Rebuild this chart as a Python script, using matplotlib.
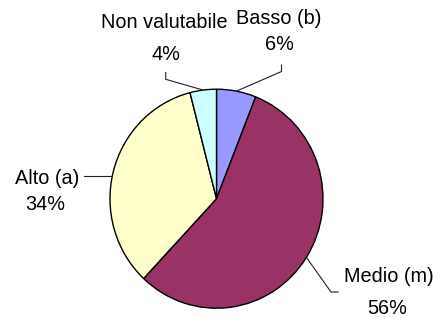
import numpy as np
import matplotlib
matplotlib.use("Agg")
import matplotlib.pyplot as plt

categories = ['Basso (b)', 'Medio (m)', 'Alto (a)', 'Non valutabile']
values = [6, 56, 34, 4]
colors = ['#9999FF', '#993366', '#FFFFCC', '#CCFFFF']

plt.rcParams['font.family'] = ['Liberation Sans', 'DejaVu Sans']

W, H = 444, 317
fig = plt.figure(figsize=(W / 100, H / 100), dpi=100)
ax = fig.add_axes([0, 0, 1, 1])

# pie is slightly taller than wide in the original
rx, ry = 106.5, 109.5
k = rx / ry

def px(x, y):
    # pixel position (from top-left) -> data coords
    return x, (H - y) * k

cx, cy = px(216.5, 198.7)
wedges, _ = ax.pie(values, colors=colors, startangle=90, counterclock=False,
                   center=(cx, cy), radius=rx, frame=True,
                   wedgeprops=dict(edgecolor='black', linewidth=1.0))
ax.set_xlim(0, W)
ax.set_ylim(0, H * k)
ax.set_aspect('auto')
ax.set_axis_off()

def edge_point(w, y=None):
    if y is None:
        a = np.deg2rad((w.theta1 + w.theta2) / 2)
        return cx + rx * np.cos(a), cy + rx * np.sin(a)
    # point on the left edge at a given height
    s = (y - cy) / rx
    return cx - rx * np.sqrt(1 - s * s), y

fs = 14.3
line_kw = dict(color='#222222', linewidth=0.8)

# text centres (name line, percent line) and leader elbows, in pixels
labels = {
    0: dict(name=(279, 18), pct=(279, 45), elbow=[(281.5, 71.5), (281.5, 65)]),
    1: dict(name=(389, 276), pct=(387, 309), elbow=[(331, 292), (338, 292)]),
    2: dict(name=(47, 179), pct=(45, 204), elbow=[(84, 175.5)]),
    3: dict(name=(164.5, 23), pct=(166, 54), elbow=[(165.7, 79.3), (165.7, 72.5)]),
}

for i, w in enumerate(wedges):
    lab = labels[i]
    ax.text(*px(*lab['name']), categories[i], ha='center', va='center', fontsize=fs)
    ax.text(*px(*lab['pct']), f"{values[i]}%", ha='center', va='center', fontsize=fs)
    elbows = [px(*p) for p in lab['elbow']]
    if i == 2:
        start = edge_point(w, elbows[0][1])
    else:
        start = edge_point(w)
    xs, ys = zip(*([start] + elbows))
    ax.plot(xs, ys, **line_kw)

fig.savefig('out.png', dpi=100)
